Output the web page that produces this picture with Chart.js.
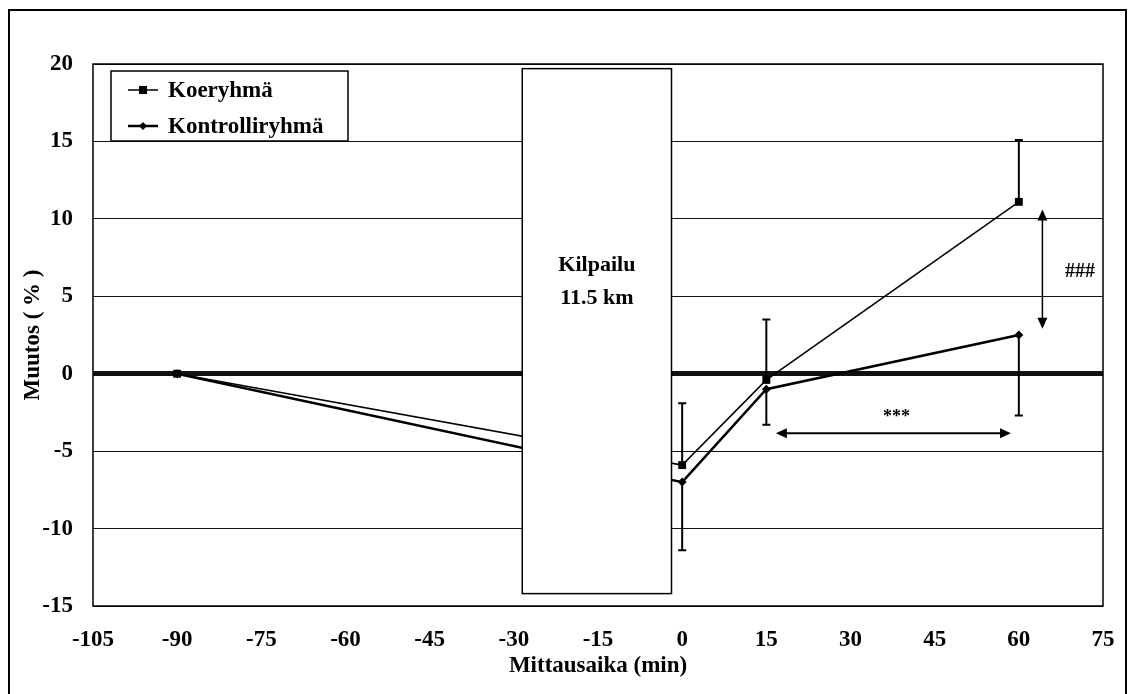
<!DOCTYPE html>
<html>
<head>
<meta charset="utf-8">
<script src="https://cdn.jsdelivr.net/npm/chart.js@4.4.1/dist/chart.umd.min.js"></script>
<style>
body { margin: 0; background: #fff; }
#wrap { position: relative; width: 1129px; height: 694px; }
</style>
</head>
<body>
<div id="wrap"><canvas id="chart" width="1129" height="694"></canvas></div>
<script>
// measurement times (min)
var times = [-90, 0, 15, 60];

// change (%) per group
var koeValues = [0, -5.9, -0.4, 11.1];
var kontValues = [0, -7.0, -1.0, 2.5];

// error bars: Koeryhmä upwards, Kontrolliryhmä downwards
var koeErrUp = [0, 4.0, 3.9, 4.0];
var kontErrDown = [0, 4.4, 2.3, 5.2];

var seriesNames = ["Koeryhmä", "Kontrolliryhmä"];

// axis ranges
var xMin = -105, xMax = 75, xStep = 15;
var yMin = -15, yMax = 20, yStep = 5;

// race block (hides the lines)
var raceX = [-28.5, -1.9];
var raceY = [-14.2, 19.7];
var raceText = ["Kilpailu", "11.5 km"];
var raceTextY = [7.0, 4.9];

// significance markers
var starsArrowX = [16.7, 58.6], starsArrowY = -3.85, starsText = "***", starsPos = [38.2, -2.8];
var hashArrowX = 64.2, hashArrowY = [10.6, 2.9], hashText = "###", hashPos = [70.9, 6.6];

var serif = "'Liberation Serif', 'Times New Roman', serif";
Chart.defaults.font.family = serif;
Chart.defaults.font.weight = 'bold';
Chart.defaults.color = '#000';

function toPoints(xs, ys) {
  var pts = [];
  for (var i = 0; i < xs.length; i++) pts.push({x: xs[i], y: ys[i]});
  return pts;
}

function arrowHead(ctx, x, y, dx, dy) {
  // dx,dy = unit direction the arrow points to
  var len = 11, half = 5;
  ctx.beginPath();
  ctx.moveTo(x, y);
  ctx.lineTo(x - dx * len - dy * half, y - dy * len + dx * half);
  ctx.lineTo(x - dx * len + dy * half, y - dy * len - dx * half);
  ctx.closePath();
  ctx.fill();
}

var overlay = {
  id: 'overlay',
  afterDatasetsDraw: function(chart) {
    var ctx = chart.ctx, xs = chart.scales.x, ys = chart.scales.y, a = chart.chartArea;
    ctx.save();
    ctx.strokeStyle = '#000';
    ctx.fillStyle = '#000';

    // error bars
    ctx.lineWidth = 2;
    function errBar(x, y0, y1) {
      var px = xs.getPixelForValue(x), p0 = ys.getPixelForValue(y0), p1 = ys.getPixelForValue(y1);
      ctx.beginPath();
      ctx.moveTo(px, p0); ctx.lineTo(px, p1);
      ctx.moveTo(px - 4, p1); ctx.lineTo(px + 4, p1);
      ctx.stroke();
    }
    for (var i = 0; i < times.length; i++) {
      if (koeErrUp[i]) errBar(times[i], koeValues[i], koeValues[i] + koeErrUp[i]);
      if (kontErrDown[i]) errBar(times[i], kontValues[i], kontValues[i] - kontErrDown[i]);
    }

    // plot frame
    ctx.lineWidth = 1.5;
    ctx.strokeRect(a.left, a.top, a.right - a.left, a.bottom - a.top);

    // race block
    var bx0 = xs.getPixelForValue(raceX[0]), bx1 = xs.getPixelForValue(raceX[1]);
    var by0 = ys.getPixelForValue(raceY[1]), by1 = ys.getPixelForValue(raceY[0]);
    ctx.fillStyle = '#fff';
    ctx.fillRect(bx0, by0, bx1 - bx0, by1 - by0);
    ctx.lineWidth = 1.5;
    ctx.strokeRect(bx0, by0, bx1 - bx0, by1 - by0);
    ctx.fillStyle = '#000';
    ctx.font = 'bold 22px ' + serif;
    ctx.textAlign = 'center';
    ctx.textBaseline = 'middle';
    var bxc = (bx0 + bx1) / 2;
    for (var j = 0; j < raceText.length; j++) {
      ctx.fillText(raceText[j], bxc, ys.getPixelForValue(raceTextY[j]));
    }

    // *** arrow
    ctx.lineWidth = 2;
    var sx0 = xs.getPixelForValue(starsArrowX[0]), sx1 = xs.getPixelForValue(starsArrowX[1]);
    var sy = ys.getPixelForValue(starsArrowY);
    ctx.beginPath(); ctx.moveTo(sx0 + 6, sy); ctx.lineTo(sx1 - 6, sy); ctx.stroke();
    arrowHead(ctx, sx0, sy, -1, 0);
    arrowHead(ctx, sx1, sy, 1, 0);
    ctx.font = 'bold 18px ' + serif;
    ctx.fillText(starsText, xs.getPixelForValue(starsPos[0]), ys.getPixelForValue(starsPos[1]));

    // ### arrow
    var hx = xs.getPixelForValue(hashArrowX);
    var hy0 = ys.getPixelForValue(hashArrowY[0]), hy1 = ys.getPixelForValue(hashArrowY[1]);
    ctx.lineWidth = 1.5;
    ctx.beginPath(); ctx.moveTo(hx, hy0 + 6); ctx.lineTo(hx, hy1 - 6); ctx.stroke();
    arrowHead(ctx, hx, hy0, 0, -1);
    arrowHead(ctx, hx, hy1, 0, 1);
    ctx.font = 'bold 20px ' + serif;
    ctx.fillText(hashText, xs.getPixelForValue(hashPos[0]), ys.getPixelForValue(hashPos[1]));

    // legend box
    var lx = a.left + 18, ly = a.top + 7, lw = 237, lh = 70;
    ctx.fillStyle = '#fff';
    ctx.fillRect(lx, ly, lw, lh);
    ctx.lineWidth = 1.5;
    ctx.strokeRect(lx, ly, lw, lh);
    ctx.fillStyle = '#000';
    ctx.font = 'bold 23px ' + serif;
    ctx.textAlign = 'left';
    var rows = [ly + 19, ly + 55];
    for (var k = 0; k < seriesNames.length; k++) {
      var ry = rows[k];
      ctx.lineWidth = k === 0 ? 1.5 : 2.5;
      ctx.beginPath(); ctx.moveTo(lx + 17, ry); ctx.lineTo(lx + 47, ry); ctx.stroke();
      var mx = lx + 32;
      ctx.beginPath();
      if (k === 0) {
        ctx.rect(mx - 4, ry - 4, 8, 8);
      } else {
        ctx.moveTo(mx, ry - 4); ctx.lineTo(mx + 4, ry); ctx.lineTo(mx, ry + 4); ctx.lineTo(mx - 4, ry);
        ctx.closePath();
      }
      ctx.fill();
      ctx.fillText(seriesNames[k], lx + 57, ry + 1);
    }

    // outer frame (bottom edge is off the picture)
    ctx.lineWidth = 2;
    ctx.strokeRect(9, 10, 1117, 700);
    ctx.restore();
  }
};

var ctx = document.getElementById("chart");
var myChart = new Chart(ctx, {
  type: 'line',
  data: {
    datasets: [
      {
        label: seriesNames[0],
        data: toPoints(times, koeValues),
        borderColor: "#000",
        backgroundColor: "#000",
        borderWidth: 1.5,
        pointStyle: 'rect',
        pointRadius: 5.6,
        pointBorderWidth: 0,
        fill: false
      },
      {
        label: seriesNames[1],
        data: toPoints(times, kontValues),
        borderColor: "#000",
        backgroundColor: "#000",
        borderWidth: 2.5,
        pointStyle: 'rectRot',
        pointRadius: 4.5,
        pointBorderWidth: 0,
        fill: false
      }
    ]
  },
  options: {
    responsive: false,
    animation: false,
    layout: { padding: { left: 10, right: 26, top: 64, bottom: 10 } },
    plugins: { legend: { display: false }, tooltip: { enabled: false } },
    scales: {
      x: {
        type: 'linear',
        min: xMin, max: xMax,
        ticks: { stepSize: xStep, padding: 20, font: { size: 23 } },
        grid: { display: false, drawTicks: false },
        border: { display: false },
        title: { display: true, text: 'Mittausaika (min)', font: { size: 23 }, padding: { top: 0, bottom: 4 } },
        afterFit: function(s) { s.height = 78; s.paddingLeft = 0; s.paddingRight = 0; }
      },
      y: {
        min: yMin, max: yMax,
        ticks: { stepSize: yStep, padding: 20, font: { size: 23 } },
        grid: {
          drawTicks: false,
          color: '#111',
          lineWidth: function(c) { return c.tick && c.tick.value === 0 ? 5 : 1; }
        },
        border: { display: false },
        title: { display: true, text: 'Muutos ( % )', font: { size: 23 }, padding: { top: 9, bottom: 0 } },
        afterFit: function(s) { s.width = 83; }
      }
    }
  },
  plugins: [overlay]
});
</script>
</body>
</html>
